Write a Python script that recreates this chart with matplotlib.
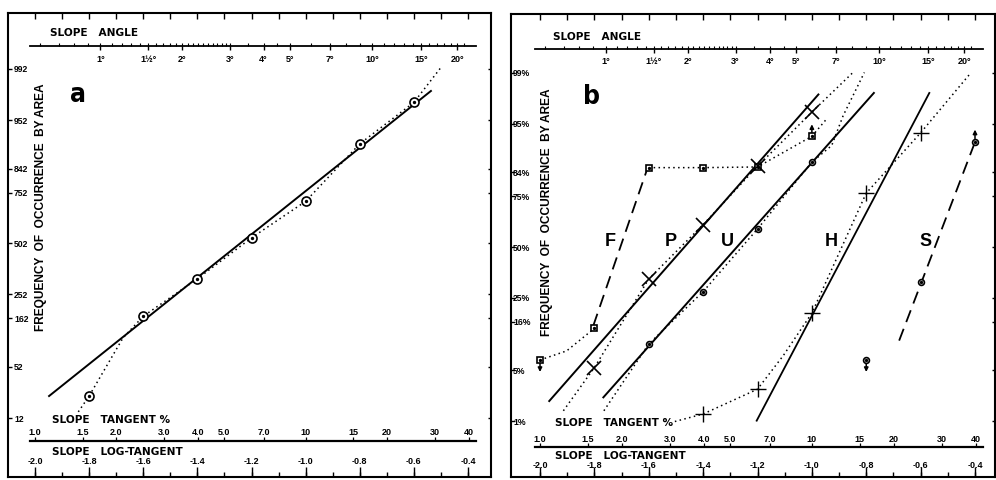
import numpy as np
import matplotlib
matplotlib.use('Agg')
import matplotlib.pyplot as plt
from matplotlib.transforms import offset_copy
from statistics import NormalDist

plt.rcParams['font.family'] = ['Liberation Sans', 'DejaVu Sans']
plt.rcParams['font.weight'] = 'bold'

ND = NormalDist()

# ---- scale ticks / labels ----
PCT_TICKS = [1, 5, 16, 25, 50, 75, 84, 95, 99]
PCT_LABELS_A = ['12', '52', '162', '252', '502', '752', '842', '952', '992']
PCT_LABELS_B = ['1%', '5%', '16%', '25%', '50%', '75%', '84%', '95%', '99%']
LOGTAN_TICKS = [-2.0, -1.8, -1.6, -1.4, -1.2, -1.0, -0.8, -0.6, -0.4]
LOGTAN_LABELS = ['-2.0', '-1.8', '-1.6', '-1.4', '-1.2', '-1.0', '-0.8', '-0.6', '-0.4']
LOGTAN_MINOR = [-2.0, -1.9, -1.8, -1.7, -1.6, -1.5, -1.4, -1.3, -1.2, -1.1,
                -1.0, -0.9, -0.8, -0.7, -0.6, -0.5, -0.4]
TAN_PCT = [1.0, 1.5, 2.0, 3.0, 4.0, 5.0, 7.0, 10, 15, 20, 30, 40]
TAN_LABELS = ['1.0', '1.5', '2.0', '3.0', '4.0', '5.0', '7.0', '10', '15', '20', '30', '40']
DEG_TICKS = [1, 1.5, 2, 3, 4, 5, 7, 10, 15, 20]
DEG_LABELS = ['1°', '1½°', '2°', '3°', '4°', '5°', '7°', '10°', '15°', '20°']
DEG_MINOR = [0.6, 0.7, 0.8, 0.9, 1.0, 1.1, 1.2, 1.3, 1.4, 1.5, 1.6, 1.7, 1.8, 1.9,
             2.0, 2.1, 2.2, 2.3, 2.4, 2.5, 2.6, 2.7, 2.8, 2.9, 3.0, 3.5, 4.0, 4.5,
             5, 6, 7, 8, 9, 10, 11, 12, 13, 14, 15, 16, 17, 18, 19, 20, 21]

# ---- panel a ----
A_X = [-1.8, -1.6, -1.4, -1.2, -1.0, -0.8, -0.6]
A_P = [2.1, 16.6, 31.9, 53.0, 71.3, 90.8, 97.0]
A_DOT_X = [-1.84, -1.8, -1.675, -1.6, -1.4, -1.2, -1.0, -0.8, -0.6, -0.496]
A_DOT_P = [1.24, 2.1, 10.4, 16.6, 31.9, 53.0, 71.3, 90.8, 97.0, 99.1]
A_FIT_X = [-1.948, -0.537]
A_FIT_P = [2.1, 97.9]

# ---- panel b ----
F_X = [-2.0, -1.8, -1.6, -1.4, -1.2, -1.0]
F_P = [6.6, 13.9, 85.5, 85.5, 85.7, 93.0]
F_DOT1_X = [-2.0, -1.902, -1.8]
F_DOT1_P = [6.6, 8.3, 13.9]
F_DOT2_X = [-1.6, -1.4, -1.2, -1.0, -0.946]
F_DOT2_P = [85.5, 85.5, 85.7, 93.0, 95.6]
F_FIT_X = [-1.804, -1.608]
F_FIT_P = [14.7, 84.5]

P_X = [-1.8, -1.6, -1.4, -1.2, -1.0]
P_P = [5.4, 33.5, 61.7, 85.9, 96.4]
P_DOT_X = [-1.914, -1.8, -1.6, -1.4, -1.2, -1.0, -0.849]
P_DOT_P = [1.45, 5.4, 33.5, 61.7, 85.9, 96.4, 99.0]
P_FIT_X = [-1.966, -0.976]
P_FIT_P = [2.0, 97.9]

U_X = [-1.6, -1.4, -1.2, -1.0]
U_P = [9.8, 27.6, 59.5, 87.1]
U_DOT_X = [-1.765, -1.6, -1.4, -1.2, -1.0, -0.927, -0.885, -0.807]
U_DOT_P = [1.45, 9.8, 27.6, 59.5, 87.1, 91.2, 96.0, 99.0]
U_FIT_X = [-1.767, -0.772]
U_FIT_P = [2.25, 98.0]

H_X = [-1.4, -1.2, -1.0, -0.8, -0.6]
H_P = [1.3, 2.9, 18.9, 76.4, 93.6]
H_DOT_X = [-1.504, -1.4, -1.2, -1.105, -1.0, -0.8, -0.6, -0.416]
H_DOT_P = [1.0, 1.3, 2.9, 7.4, 18.9, 76.4, 93.6, 98.98]
H_FIT_X = [-1.203, -0.568]
H_FIT_P = [1.03, 98.0]

S_X = [-0.8, -0.6, -0.4]
S_P = [6.6, 32.2, 92.0]
S_FIT_X = [-0.679, -0.400]
S_FIT_P = [10.6, 91.9]

ARROW_X = [-2.0, -1.0, -0.8, -0.4]
ARROW_P = [6.6, 93.0, 6.6, 92.0]
ARROW_UP = [False, True, False, True]

GROUP_NAMES = ['F', 'P', 'U', 'H', 'S']

# pixel layout of each panel (996 x 481 canvas)
LAY_A = dict(x0=8, x1=491, ytop=14, ybot=478, xm2=35, xm04=468, y50=244.5, y99=70,
             deg_line=47, deg_lab=60, angle_txt=33, tan_txt=420, tan_lab=433,
             tan_line=442, log_txt=452, log_lab=462, txt_x=50, letter=(78, 95),
             ylab_x=41, ylab_y=207, tick_lab_x=14)
LAY_B = dict(x0=511, x1=995, ytop=15, ybot=478, xm2=540, xm04=975, y50=248, y99=73.5,
             deg_line=50, deg_lab=62, angle_txt=37, tan_txt=423, tan_lab=440,
             tan_line=448, log_txt=456, log_lab=466, txt_x=553, letter=(591, 97),
             ylab_x=547, ylab_y=212, tick_lab_x=513)
LETTER_POS_X = [610, 671, 727, 831, 926]
LETTER_POS_Y = 242

W, H = 996, 481
TITLE_FONT = dict(family=['DejaVu Sans'], fontsize=7.6, fontweight='bold')


def fwd(p):
    p = np.clip(np.asarray(p, dtype=float) / 100.0, 1e-7, 1 - 1e-7)
    return np.vectorize(ND.inv_cdf, otypes=[float])(p)


def inv(z):
    return np.vectorize(ND.cdf, otypes=[float])(np.asarray(z, dtype=float)) * 100.0


fig = plt.figure(figsize=(W / 100, H / 100), dpi=100)


def make_axes(lay):
    rect = [lay['x0'] / W, (H - lay['ybot']) / H,
            (lay['x1'] - lay['x0']) / W, (lay['ybot'] - lay['ytop']) / H]
    ax = fig.add_axes(rect)
    ax.set_yscale('function', functions=(fwd, inv))
    k = (lay['xm04'] - lay['xm2']) / 1.6
    ax.set_xlim(-2 + (lay['x0'] - lay['xm2']) / k, -2 + (lay['x1'] - lay['xm2']) / k)
    kz = (lay['y50'] - lay['y99']) / ND.inv_cdf(0.99)
    ax.set_ylim(float(inv(-(lay['ybot'] - lay['y50']) / kz)),
                float(inv((lay['y50'] - lay['ytop']) / kz)))
    ax.set_xticks([])
    ax.set_yticks([])
    ax.minorticks_off()
    for s in ax.spines.values():
        s.set_linewidth(1.5)
    return ax


def draw_scales(ax, lay, pct_labels):
    hh = lay['ybot'] - lay['ytop']
    ww = lay['x1'] - lay['x0']
    fy = lambda y: (lay['ybot'] - y) / hh
    fx = lambda x: (x - lay['x0']) / ww
    px = lambda n: n / hh
    tx = ax.get_xaxis_transform()
    ty = ax.get_yaxis_transform()
    fs = 6.2

    # y probability ticks
    ax.hlines(PCT_TICKS, 0, 4 / ww, transform=ty, color='k', lw=1.0)
    ax.hlines(PCT_TICKS, 1 - 3 / ww, 1, transform=ty, color='k', lw=1.0)
    for p, lab in zip(PCT_TICKS, pct_labels):
        ax.text(fx(lay['tick_lab_x']), p, lab, transform=ty, fontsize=fs,
                ha='left', va='center')

    # top frame ticks
    ax.vlines(LOGTAN_MINOR, 1 - px(6), 1, transform=tx, color='k', lw=1.0)

    # slope angle scale
    dl = fy(lay['deg_line'])
    ax.plot([-2.02, -0.37], [dl, dl], transform=tx, color='k', lw=1.3)
    dmin = np.log10(np.tan(np.radians(DEG_MINOR)))
    ax.vlines(dmin, dl, dl + px(3), transform=tx, color='k', lw=0.8)
    dmaj = np.log10(np.tan(np.radians(DEG_TICKS)))
    ax.vlines(dmaj, dl - px(4), dl, transform=tx, color='k', lw=1.0)
    for x, lab in zip(dmaj, DEG_LABELS):
        ax.text(x, fy(lay['deg_lab']), lab, transform=tx, fontsize=6.5,
                ha='center', va='center')
    ax.text(fx(lay['txt_x']), fy(lay['angle_txt']), 'SLOPE   ANGLE',
            transform=ax.transAxes, ha='left', va='center', **TITLE_FONT)

    # slope tangent scale
    tl = fy(lay['tan_line'])
    ax.plot([-2.02, -0.37], [tl, tl], transform=tx, color='k', lw=1.6)
    tpos = np.log10(np.asarray(TAN_PCT) / 100.0)
    ax.vlines(tpos, tl, tl + px(4), transform=tx, color='k', lw=0.9)
    for x, lab in zip(tpos, TAN_LABELS):
        ax.text(x, fy(lay['tan_lab']), lab, transform=tx, fontsize=6.5,
                ha='center', va='center')
    ax.text(fx(lay['txt_x'] + 2), fy(lay['tan_txt']), 'SLOPE   TANGENT %',
            transform=ax.transAxes, ha='left', va='center', **TITLE_FONT)

    # log tangent scale
    ax.text(fx(lay['txt_x'] + 2), fy(lay['log_txt']), 'SLOPE   LOG-TANGENT',
            transform=ax.transAxes, ha='left', va='center', **TITLE_FONT)
    ax.vlines(LOGTAN_MINOR, 0, px(5), transform=tx, color='k', lw=1.0)
    ax.vlines(LOGTAN_TICKS, 0, px(10), transform=tx, color='k', lw=1.0)
    for x, lab in zip(LOGTAN_TICKS, LOGTAN_LABELS):
        ax.text(x, fy(lay['log_lab']), lab, transform=tx, fontsize=6.5,
                ha='center', va='center')

    # y label
    ax.text(fx(lay['ylab_x']), fy(lay['ylab_y']), 'FREQUENCY  OF  OCCURRENCE  BY AREA',
            transform=ax.transAxes, fontsize=8.6, rotation=90, ha='center', va='center')


def dotted(ax, x, p):
    ax.plot(x, p, color='k', lw=1.1, ls=(0, (1, 2.2)))


def marked(ax, x, p, marker, ms):
    ax.plot(x, p, ls='none', marker=marker, ms=ms, mfc='white', mec='k', mew=1.2, zorder=5)
    ax.plot(x, p, ls='none', marker='o', ms=1.4, color='k', zorder=6)


def panel_letter(ax, lay, s):
    ax.text((lay['letter'][0] - lay['x0']) / (lay['x1'] - lay['x0']),
            (lay['ybot'] - lay['letter'][1]) / (lay['ybot'] - lay['ytop']),
            s, transform=ax.transAxes, fontsize=19, fontweight='heavy',
            family=['DejaVu Sans'], fontstretch='condensed', ha='center', va='center')


# ---------- panel a ----------
axa = make_axes(LAY_A)
draw_scales(axa, LAY_A, PCT_LABELS_A)
axa.plot(A_FIT_X, A_FIT_P, color='k', lw=1.4)
dotted(axa, A_DOT_X, A_DOT_P)
marked(axa, A_X, A_P, 'o', 6.5)
panel_letter(axa, LAY_A, 'a')

# ---------- panel b ----------
axb = make_axes(LAY_B)
draw_scales(axb, LAY_B, PCT_LABELS_B)

axb.plot(F_FIT_X, F_FIT_P, color='k', lw=1.3, ls=(0, (7, 4)))
dotted(axb, F_DOT1_X, F_DOT1_P)
dotted(axb, F_DOT2_X, F_DOT2_P)

axb.plot(P_FIT_X, P_FIT_P, color='k', lw=1.4)
dotted(axb, P_DOT_X, P_DOT_P)

axb.plot(U_FIT_X, U_FIT_P, color='k', lw=1.4)
dotted(axb, U_DOT_X, U_DOT_P)

axb.plot(H_FIT_X, H_FIT_P, color='k', lw=1.3)
dotted(axb, H_DOT_X, H_DOT_P)

axb.plot(S_FIT_X, S_FIT_P, color='k', lw=1.3, ls=(0, (7, 4)))

marked(axb, F_X, F_P, 's', 4.2)
marked(axb, U_X, U_P, 'o', 4.2)
marked(axb, S_X, S_P, 'o', 4.2)
axb.plot(P_X, P_P, ls='none', marker='x', ms=10, mec='k', mew=1.2, zorder=5)
axb.plot(H_X, H_P, ls='none', marker='+', ms=12, mec='k', mew=1.0, zorder=5)

for x, p, up in zip(ARROW_X, ARROW_P, ARROW_UP):
    s = 1 if up else -1
    tail = offset_copy(axb.transData, fig=fig, x=0, y=s * 3, units='dots')
    head = offset_copy(axb.transData, fig=fig, x=0, y=s * 12, units='dots')
    axb.annotate('', xy=(x, p), xycoords=head, xytext=(x, p), textcoords=tail,
                 arrowprops=dict(arrowstyle='-|>', color='k', lw=1.1,
                                 mutation_scale=6, shrinkA=0, shrinkB=0))

wb = LAY_B['x1'] - LAY_B['x0']
hb = LAY_B['ybot'] - LAY_B['ytop']
for name, xp in zip(GROUP_NAMES, LETTER_POS_X):
    axb.text((xp - LAY_B['x0']) / wb, (LAY_B['ybot'] - LETTER_POS_Y) / hb, name,
             transform=axb.transAxes, fontsize=13, ha='center', va='center')
panel_letter(axb, LAY_B, 'b')

fig.savefig('out.png', dpi=100)
